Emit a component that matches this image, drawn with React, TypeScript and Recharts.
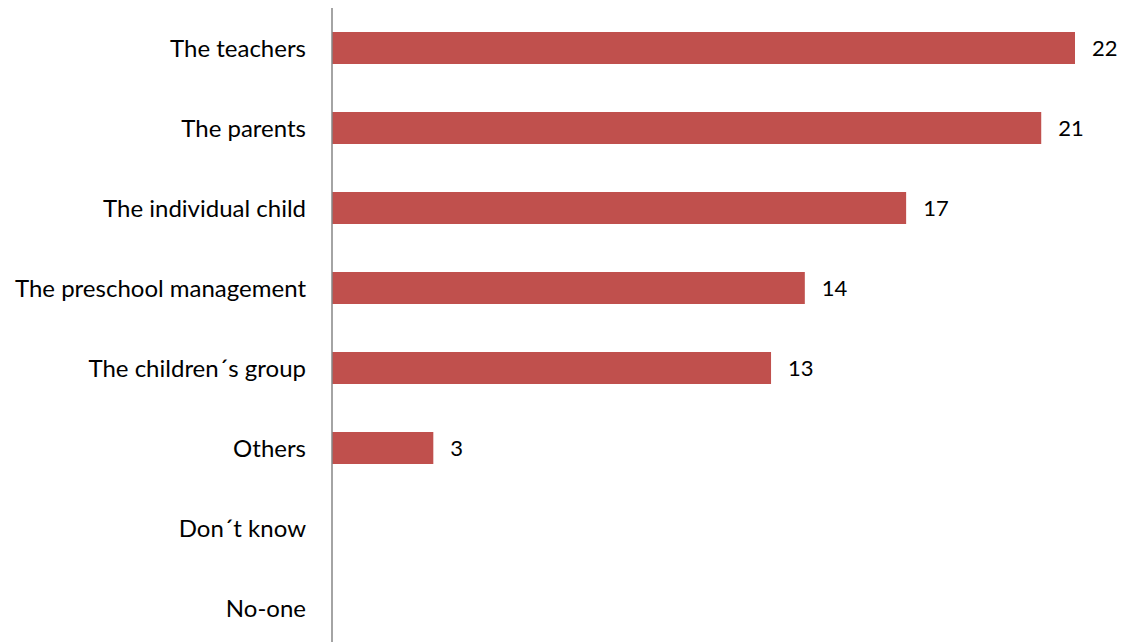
import React from "react";
import { BarChart, Bar, XAxis, YAxis, LabelList } from "recharts";

const categories = [
  "The teachers",
  "The parents",
  "The individual child",
  "The preschool management",
  "The children´s group",
  "Others",
  "Don´t know",
  "No-one",
];
const counts = [22, 21, 17, 14, 13, 3, null, null];

const data = categories.map((name, i) => ({ name, count: counts[i] }));

const FONT = "Lato, 'Open Sans', sans-serif";

export default function App() {
  return (
    <div style={{ position: "absolute", left: 0, top: 0, fontFamily: FONT }}>
      <BarChart
        width={1124}
        height={650}
        data={data}
        layout="vertical"
        margin={{ top: 8, right: 49, bottom: 2, left: 0 }}
        barSize={32}
      >
        <XAxis type="number" domain={[0, 22]} hide />
        <YAxis
          type="category"
          dataKey="name"
          width={332}
          tickLine={false}
          tickMargin={20}
          axisLine={{ stroke: "#868686", strokeWidth: 1.5 }}
          tick={{ fill: "#000", fontSize: 24, fontFamily: FONT }}
          interval={0}
        />
        <Bar dataKey="count" fill="#C0504D" isAnimationActive={false}>
          <LabelList
            dataKey="count"
            position="right"
            offset={17}
            fill="#000"
            fontSize={22}
            fontFamily={FONT}
          />
        </Bar>
      </BarChart>
    </div>
  );
}
